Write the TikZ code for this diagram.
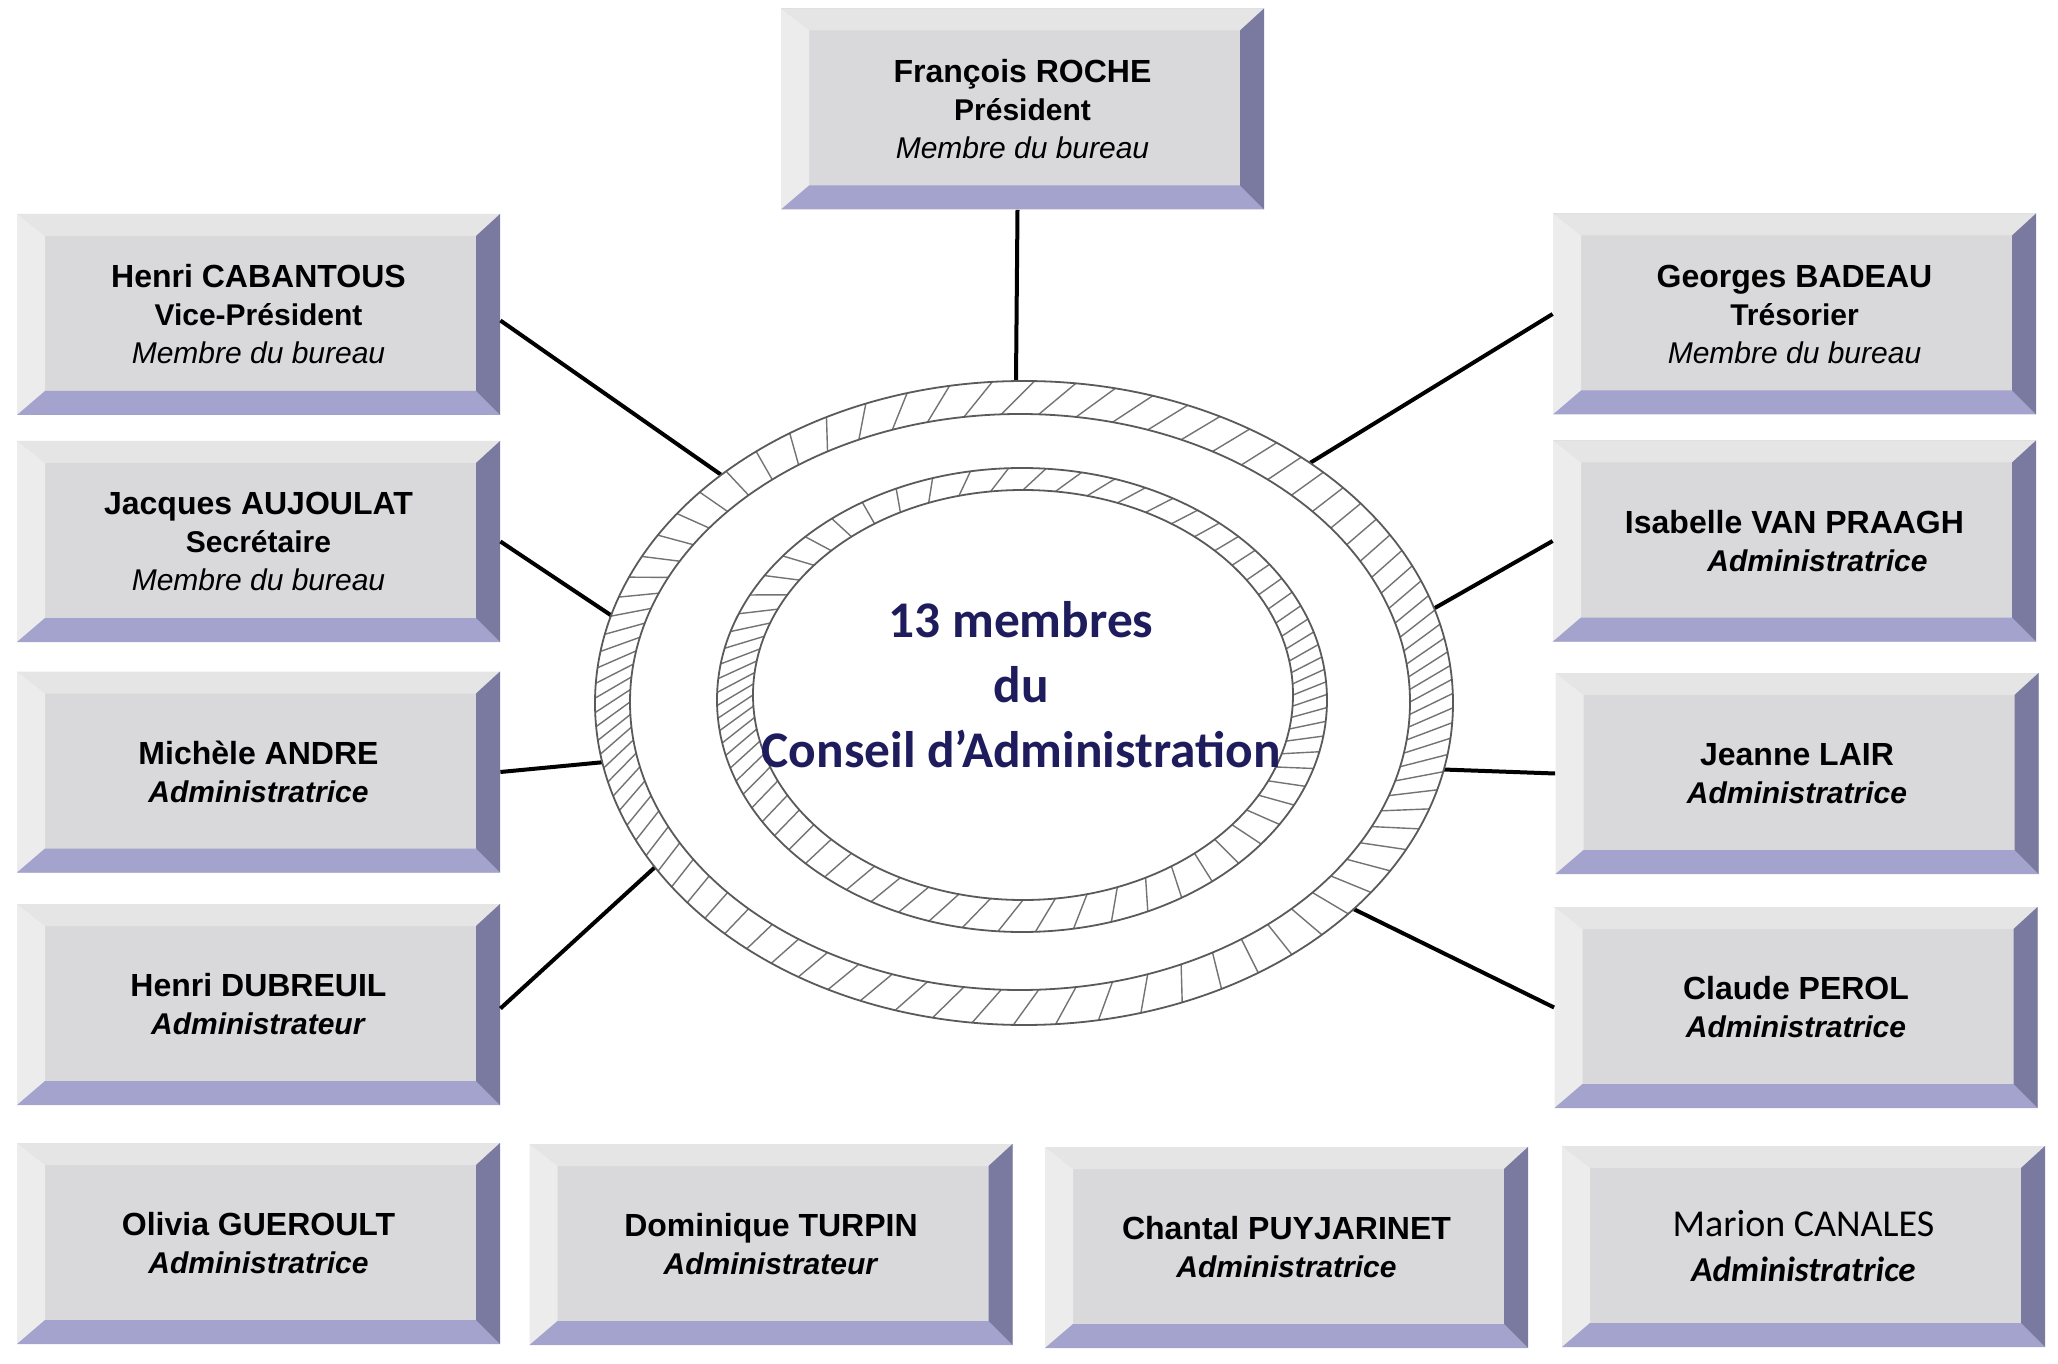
\documentclass[tikz,border=0pt]{standalone}
\usepackage{fontspec}
\setmainfont{Liberation Sans}
\newfontfamily\carl{Carlito}
\usetikzlibrary{calc,shapes.geometric}
\definecolor{face}{RGB}{217,217,219}
\definecolor{bevT}{RGB}{229,229,229}
\definecolor{bevL}{RGB}{236,236,236}
\definecolor{bevB}{RGB}{163,163,206}
\definecolor{bevR}{RGB}{122,122,160}
\definecolor{navy}{RGB}{30,28,92}
\definecolor{hatchc}{RGB}{115,115,115}
\definecolor{ringc}{RGB}{90,90,90}
\def\bvL{14pt}\def\bvT{11pt}\def\bvR{12pt}\def\bvB{12pt}
\tikzset{
  bevbox/.style={minimum width=241.5pt, minimum height=100.5pt, inner sep=0pt,
    align=center, fill=face, font=\fontsize{15}{19}\selectfont,
    path picture={
      \coordinate (pNW) at (path picture bounding box.north west);
      \coordinate (pNE) at (path picture bounding box.north east);
      \coordinate (pSW) at (path picture bounding box.south west);
      \coordinate (pSE) at (path picture bounding box.south east);
      \fill[bevT] (pNW) -- (pNE) -- ([shift={(-\bvR,-\bvT)}]pNE) -- ([shift={(\bvL,-\bvT)}]pNW) -- cycle;
      \fill[bevL] (pNW) -- (pSW) -- ([shift={(\bvL,\bvB)}]pSW) -- ([shift={(\bvL,-\bvT)}]pNW) -- cycle;
      \fill[bevB] (pSW) -- (pSE) -- ([shift={(-\bvR,\bvB)}]pSE) -- ([shift={(\bvL,\bvB)}]pSW) -- cycle;
      \fill[bevR] (pNE) -- (pSE) -- ([shift={(-\bvR,\bvB)}]pSE) -- ([shift={(-\bvR,-\bvT)}]pNE) -- cycle;
    }},
  conn/.style={line width=2pt, black},
  hatchline/.style={draw=hatchc, line width=0.7pt},
  ringline/.style={draw=ringc, line width=0.9pt}
}
\newcommand{\nmA}[1]{{\fontsize{16}{19}\selectfont\bfseries #1}}
\begin{document}
\begin{tikzpicture}[x=0.5pt,y=-0.5pt]
\useasboundingbox (0,0) rectangle (2058,1364);
\fill[white] (0,0) rectangle (2058,1364);

% boxes
\node[bevbox] (roche) at (1022.5,109) {\nmA{François ROCHE}\\\textbf{Président}\\\textit{Membre du bureau}};
\node[bevbox] (cabantous) at (258.5,314.5) {\nmA{Henri CABANTOUS}\\\textbf{Vice-Président}\\\textit{Membre du bureau}};
\node[bevbox] (aujoulat) at (258.5,541.5) {\nmA{Jacques AUJOULAT}\\\textbf{Secrétaire}\\\textit{Membre du bureau}};
\node[bevbox] (andre) at (258.5,772) {\nmA{Michèle ANDRE}\\\textbf{\textit{Administratrice}}};
\node[bevbox] (dubreuil) at (258.5,1004.5) {\nmA{Henri DUBREUIL}\\\textbf{\textit{Administrateur}}};
\node[bevbox] (gueroult) at (258.5,1243.5) {\nmA{Olivia GUEROULT}\\\textbf{\textit{Administratrice}}};
\node[bevbox] (turpin) at (771,1244.5) {\nmA{Dominique TURPIN}\\\textbf{\textit{Administrateur}}};
\node[bevbox] (puyjarinet) at (1286.5,1247.5) {\nmA{Chantal PUYJARINET}\\\textbf{\textit{Administratrice}}};
\node[bevbox, font=\carl\fontsize{19}{22.5}\selectfont] (canales) at (1803.5,1246.5) {Marion CANALES\\{\fontsize{17.5}{22.5}\selectfont\bfseries\itshape Administratrice}};
\node[bevbox] (badeau) at (1794.5,314) {\nmA{Georges BADEAU}\\\textbf{Trésorier}\\\textit{Membre du bureau}};
\node[bevbox] (vanpraagh) at (1794.5,541) {\nmA{Isabelle VAN PRAAGH}\\\hspace*{23pt}\textbf{\textit{Administratrice}}};
\node[bevbox] (lair) at (1797,773.5) {\nmA{Jeanne LAIR}\\\textbf{\textit{Administratrice}}};
\node[bevbox] (perol) at (1796,1007.5) {\nmA{Claude PEROL}\\\textbf{\textit{Administratrice}}};

% invisible ring node for connector ends
\node[ellipse, draw=none, minimum width=429pt, minimum height=322pt, inner sep=0pt] (ring) at (1024,703) {};

% connectors
\draw[conn] ([xshift=-2.5pt]roche.south) -- ([xshift=-4pt]ring.north);
\draw[conn] ([yshift=-3pt]cabantous.east) -- (ring.143);
\draw[conn] (aujoulat.east) -- (ring.168.5);
\draw[conn] (andre.east) -- (ring.188);
\draw[conn] ([yshift=-2pt]dubreuil.east) -- (ring.204.5);
\draw[conn] (badeau.west) -- (ring.40.5);
\draw[conn] (vanpraagh.west) -- (ring.13.8);
\draw[conn] (lair.west) -- (ring.351);
\draw[conn] (perol.west) -- (ring.328.5);

% ring
\fill[white] (1024,703) ellipse [x radius=214.5pt, y radius=161pt];
\foreach \k in {0,...,89} {
  \pgfmathsetmacro\tt{\k*4-10.9*sin(8*\k)}
  \pgfmathsetmacro\dd{4.2*cos(2*\tt)}
  \draw[hatchline] ({1020+390*cos(\tt)},{702-288*sin(\tt)}) -- ({1024+429*cos(\tt+\dd)},{703-322*sin(\tt+\dd)});
}
\foreach \k in {0,...,71} {
  \pgfmathsetmacro\tt{\k*5-10.9*sin(10*\k)}
  \pgfmathsetmacro\dd{4.5*cos(2*\tt)}
  \draw[hatchline] ({1023+270*cos(\tt)},{695-205*sin(\tt)}) -- ({1022+305*cos(\tt+\dd)},{700-232*sin(\tt+\dd)});
}
\draw[ringline] (1024,703) ellipse [x radius=214.5pt, y radius=161pt];
\draw[ringline] (1020,702) ellipse [x radius=195pt, y radius=144pt];
\draw[ringline] (1022,700) ellipse [x radius=152.5pt, y radius=116pt];
\draw[ringline] (1023,695) ellipse [x radius=135pt, y radius=102.5pt];

\node[font=\carl\bfseries\fontsize{25.7}{32.5}\selectfont, text=navy, align=center] (ctext) at (1021,685) {13 membres\\du\\Conseil d’Administration};
\end{tikzpicture}
\end{document}
